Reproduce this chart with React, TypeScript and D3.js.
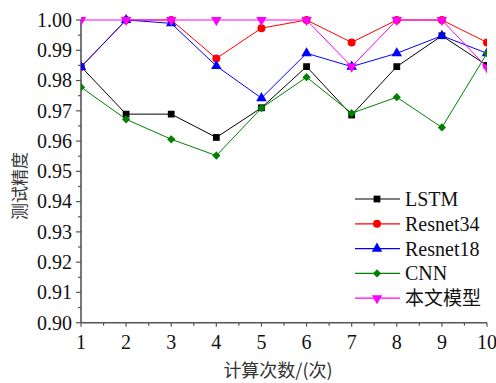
import React from "react";
import * as d3 from "d3";

const runs = [1, 2, 3, 4, 5, 6, 7, 8, 9, 10];
const lstm = [0.9846, 0.9689, 0.9689, 0.9612, 0.971, 0.9846, 0.9686, 0.9846, 0.9948, 0.985];
const resnet34 = [0.9845, 1.0, 1.0, 0.9873, 0.9973, 1.0, 0.9926, 1.0, 1.0, 0.9926];
const resnet18 = [0.9845, 1.0, 0.9989, 0.9848, 0.9742, 0.989, 0.9846, 0.989, 0.9948, 0.989];
const cnn = [0.9778, 0.9672, 0.9606, 0.9552, 0.9709, 0.9811, 0.9692, 0.9745, 0.9645, 0.989];
const ours = [1.0, 1.0, 1.0, 1.0, 1.0, 1.0, 0.9846, 1.0, 1.0, 0.9843];
const yTicks = [0.9, 0.91, 0.92, 0.93, 0.94, 0.95, 0.96, 0.97, 0.98, 0.99, 1.0];

const seriesList = [
  { name: "LSTM", values: lstm, color: "#000000", symbol: d3.symbolSquare, size: 46, rot: 0 },
  { name: "Resnet34", values: resnet34, color: "#ff0000", symbol: d3.symbolCircle, size: 50, rot: 0 },
  { name: "Resnet18", values: resnet18, color: "#0000ff", symbol: d3.symbolTriangle, size: 48, rot: 0 },
  { name: "CNN", values: cnn, color: "#008000", symbol: d3.symbolSquare, size: 34, rot: 45 },
  { name: "本文模型", values: ours, color: "#ff00ff", symbol: d3.symbolTriangle, size: 48, rot: 180 },
];

const W = 496;
const H = 383;
const margin = { top: 20, right: 9, bottom: 60, left: 81 };
const serif = "Liberation Serif";
const cjk = "Noto Sans CJK SC";
const axisColor = "#555";

const x = d3.scaleLinear().domain([1, 10]).range([margin.left, W - margin.right]);
const y = d3.scaleLinear().domain([0.9, 1.0]).range([H - margin.bottom - 0.3, margin.top]);
const line = d3.line<number>().x((_, i) => x(runs[i])).y(d => y(d));
const fmtY = d3.format(".2f");

export default function App() {
  const y0 = y(0.9);
  const minorY = d3.range(0.905, 1.0, 0.01);
  const minorX = d3.range(1.5, 10, 1);

  return (
    <div style={{ position: "fixed", left: 0, top: 0, background: "#fff" }}>
      <svg width={W} height={H} style={{ display: "block" }}>
        <defs>
          <clipPath id="plotclip">
            <rect x={margin.left} y={0} width={W - margin.right - margin.left} height={H} />
          </clipPath>
        </defs>

        {/* y axis */}
        <line x1={margin.left} x2={margin.left} y1={y(1.0)} y2={y0} stroke={axisColor} strokeWidth={1.6} />
        {minorY.map(v => (
          <line key={"my" + v} x1={margin.left - 3} x2={margin.left} y1={y(v)} y2={y(v)} stroke={axisColor} strokeWidth={1.2} />
        ))}
        {yTicks.map(v => (
          <g key={"y" + v}>
            <line x1={margin.left - 5} x2={margin.left} y1={y(v)} y2={y(v)} stroke={axisColor} strokeWidth={1.2} />
            <text x={margin.left - 9} y={y(v)} dy="0.34em" textAnchor="end" fill="#111"
              style={{ fontFamily: serif, fontSize: "20px" }}>{fmtY(v)}</text>
          </g>
        ))}

        {/* x axis */}
        <line x1={margin.left} x2={W - margin.right} y1={y0} y2={y0} stroke={axisColor} strokeWidth={1.6} />
        {minorX.map(v => (
          <line key={"mx" + v} x1={x(v)} x2={x(v)} y1={y0} y2={y0 + 3} stroke={axisColor} strokeWidth={1.2} />
        ))}
        {runs.map(v => (
          <g key={"x" + v}>
            <line x1={x(v)} x2={x(v)} y1={y0} y2={y0 + 4} stroke={axisColor} strokeWidth={1.2} />
            <text x={x(v)} y={y0 + 12} dy="0.71em" textAnchor="middle" fill="#111"
              style={{ fontFamily: serif, fontSize: "20px" }}>{v}</text>
          </g>
        ))}

        {/* series */}
        <g clipPath="url(#plotclip)">
          {seriesList.map(s => {
            const sym = d3.symbol().type(s.symbol).size(s.size)() as string;
            return (
              <g key={s.name}>
                <path d={line(s.values) as string} fill="none" stroke={s.color} strokeWidth={1} />
                {s.values.map((v, i) => (
                  <path key={i} d={sym} fill={s.color}
                    transform={`translate(${x(runs[i])},${y(v)}) rotate(${s.rot})`} />
                ))}
              </g>
            );
          })}
        </g>

        {/* legend */}
        {seriesList.map((s, i) => {
          const ly = 199 + i * 24.8;
          const sym = d3.symbol().type(s.symbol).size(s.size)() as string;
          return (
            <g key={"lg" + s.name}>
              <line x1={355} x2={400} y1={ly} y2={ly} stroke={s.color} strokeWidth={1.2} />
              <path d={sym} fill={s.color} transform={`translate(377,${ly}) rotate(${s.rot})`} />
              <text x={405} y={ly} dy="0.35em" fill="#111"
                style={{ fontFamily: i === 4 ? cjk : serif, fontSize: i === 4 ? "19px" : "20px" }}>
                {s.name}
              </text>
            </g>
          );
        })}

        {/* axis titles */}
        <text transform="translate(26,186) rotate(-90)" textAnchor="middle" fill="#333"
          style={{ fontFamily: cjk, fontSize: "17px" }}>测试精度</text>
        <text x={278} y={377} textAnchor="middle" fill="#333"
          style={{ fontFamily: cjk, fontSize: "18px" }}>计算次数/(次)</text>
      </svg>
    </div>
  );
}
